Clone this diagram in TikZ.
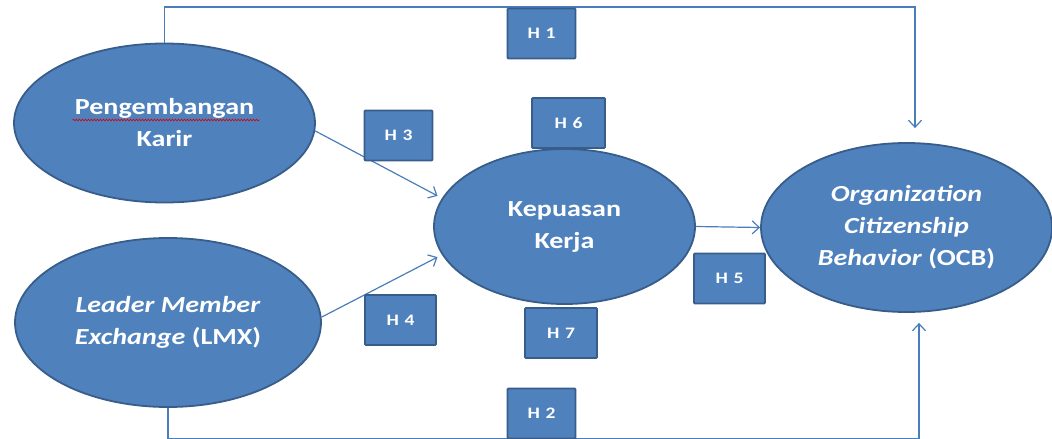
\documentclass[tikz,border=0pt]{standalone}
\usepackage{fontspec}
\setmainfont{Carlito}[FakeStretch=1.22]
\newfontfamily\hypfont{Carlito}[FakeStretch=1.22, LetterSpace=8]
\usetikzlibrary{arrows.meta, shapes.geometric, calc, decorations.pathmorphing}
\definecolor{varfill}{RGB}{79, 129, 189}
\definecolor{varline}{RGB}{56, 93, 138}
\definecolor{pathline}{RGB}{74, 126, 187}

\begin{document}
\begin{tikzpicture}[
    x=1pt, y=-1pt,
    construct/.style={
        ellipse, draw=varline, fill=varfill, line width=1.8pt,
        inner sep=0pt, align=center, text=white,
        font=\fontsize{23}{32}\selectfont\bfseries
    },
    hbox/.style={
        rectangle, rounded corners=1pt, draw=varline, fill=varfill,
        line width=1.8pt, minimum width=#1, minimum height=50,
        inner sep=0pt, text=white, font=\hypfont\fontsize{16}{18}\selectfont\bfseries
    },
    hbox/.default=68,
    conn/.style={
        draw=pathline, line width=1.2pt,
        -{Straight Barb[length=7pt, width=13pt]}
    }
]
\useasboundingbox (0,0) rectangle (1052,439);

% Variables
\node[construct, minimum width=301, minimum height=159] (pk)  at (164.5, 123)   {Pengembangan\\Karir};
\node[construct, minimum width=306, minimum height=169] (lmx) at (168, 322.5)   {\textit{Leader Member}\\\textit{Exchange} (LMX)};
\node[construct, minimum width=261, minimum height=155] (kk)  at (564.5, 226.5) {Kepuasan\\Kerja};
\node[construct, minimum width=291, minimum height=169] (ocb) at (906.5, 227.5) {\textit{Organization}\\\textit{Citizenship}\\\textit{Behavior} (OCB)};

% Spell-check underline
\draw[red!85!black, line width=0.6pt, decorate,
      decoration={snake, amplitude=0.9pt, segment length=3pt}]
    ($(pk.center)+(-92,-3)$) -- ($(pk.center)+(95,-3)$);

% Routes to OCB
\coordinate (toproute) at (915, 7);
\coordinate (botroute) at (919, 438.3);
\draw[conn, shorten >=14pt] (pk.north) |- (toproute) -- (toproute |- ocb.north);
\draw[conn, shorten >=10pt] (lmx.south) |- (botroute) -- (botroute |- ocb.south);

% Paths via Kepuasan Kerja
\draw[conn, shorten >=5pt] (pk.-3) -- (kk.167);
\draw[conn, shorten >=5pt] (lmx.2) -- (kk.193);
\draw[conn] (kk.east) -- (ocb.west);

% Hypotheses
\node[hbox]     (h1) at (541.5, 33.5)  {H 1};
\node[hbox]     (h2) at (541.5, 413.5) {H 2};
\node[hbox]     (h3) at (398.5, 135.5) {H 3};
\node[hbox=71]  (h4) at (400.5, 320)   {H 4};
\node[hbox=71]  (h5) at (729.5, 278.5) {H 5};
\node[hbox=73]  (h6) at (568.5, 123)   {H 6};
\node[hbox=72]  (h7) at (561, 333)     {H 7};

\end{tikzpicture}
\end{document}
